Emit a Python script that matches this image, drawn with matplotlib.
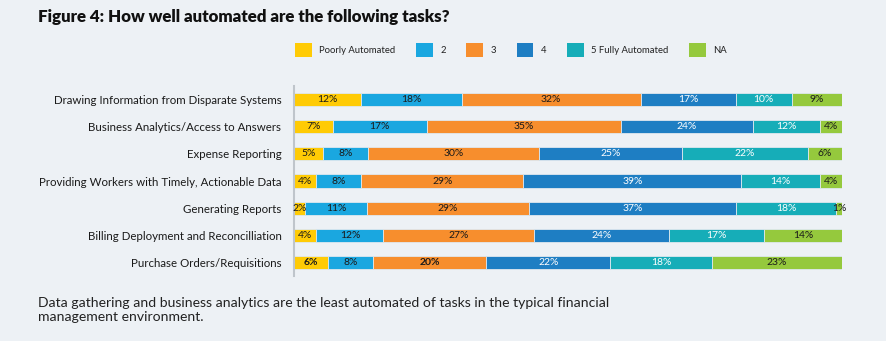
import matplotlib
matplotlib.use("Agg")
import matplotlib.pyplot as plt
import numpy as np
from matplotlib.patches import Patch

categories = [
    "Drawing Information from Disparate Systems",
    "Business Analytics/Access to Answers",
    "Expense Reporting",
    "Providing Workers with Timely, Actionable Data",
    "Generating Reports",
    "Billing Deployment and Reconcilliation",
    "Purchase Orders/Requisitions",
]
series_names = ["Poorly Automated", "2", "3", "4", "5 Fully Automated", "NA"]
poorly = [12, 7, 5, 4, 2, 4, 6]
s2 = [18, 17, 8, 8, 11, 12, 8]
s3 = [32, 35, 30, 29, 29, 27, 20]
s4 = [17, 24, 25, 39, 37, 24, 22]
s5 = [10, 12, 22, 14, 18, 17, 18]
na = [9, 4, 6, 4, 1, 14, 23]

colors = ["#FFCB05", "#1AA7E0", "#F78E2D", "#1E7EC3", "#16ADB8", "#95C93D"]
text_colors = ["#1a1a1a", "#1a1a1a", "#1a1a1a", "white", "white", "#1a1a1a"]
bg = "#EDF1F5"

plt.rcParams['font.family'] = ['Lato', 'DejaVu Sans']

fig = plt.figure(figsize=(8.87, 3.41), dpi=100)
fig.patch.set_facecolor(bg)
ax = fig.add_axes([294/887, 1-276/341, (842-294)/887, 190/341])
ax.set_facecolor(bg)

data = np.array([poorly, s2, s3, s4, s5, na], dtype=float)
totals = data.sum(axis=0)
frac = data / totals
y = np.arange(len(categories))
left = np.zeros(len(categories))
for i, name in enumerate(series_names):
    ax.barh(y, frac[i], left=left, height=0.48, color=colors[i],
            edgecolor="#dfe8ef", linewidth=0.6)
    for j in range(len(categories)):
        weight = "bold" if (j == 6 and i in (0, 2)) else "normal"
        ax.text(left[j] + frac[i][j] / 2, y[j], f"{int(data[i][j])}%",
                ha="center", va="center", fontsize=7.5, color=text_colors[i],
                fontweight=weight)
    left += frac[i]

ax.set_xlim(0, 1)
ax.set_ylim(len(categories) - 0.5, -0.5)
ax.set_yticks(y)
ax.set_yticklabels(categories, fontsize=8.3, color="#1a1a1a")
ax.tick_params(axis="y", length=0, pad=9)
ax.set_xticks([])
for s in ["top", "right", "bottom"]:
    ax.spines[s].set_visible(False)
ax.spines["left"].set_color("#BFC5CB")
ax.spines["left"].set_linewidth(1.5)

handles = [Patch(facecolor=c, edgecolor="none") for c in colors]
fig.legend(handles, series_names, loc="center", bbox_to_anchor=(511/887, 1-50/341),
           ncol=6, frameon=False, fontsize=6.8, handlelength=1.75, handleheight=1.75,
           handletextpad=0.8, columnspacing=2.2, labelcolor="#222222")

fig.text(38/887, 1-17/341, "Figure 4: How well automated are the following tasks?",
         fontsize=12.2, fontweight="heavy", color="#111111", va="center", ha="left")
fig.text(38/887, 1-310/341,
         "Data gathering and business analytics are the least automated of tasks in the typical financial\nmanagement environment.",
         fontsize=10.1, color="#222222", va="center", ha="left", linespacing=1.2)

fig.savefig("out.png", dpi=100, facecolor=bg)
